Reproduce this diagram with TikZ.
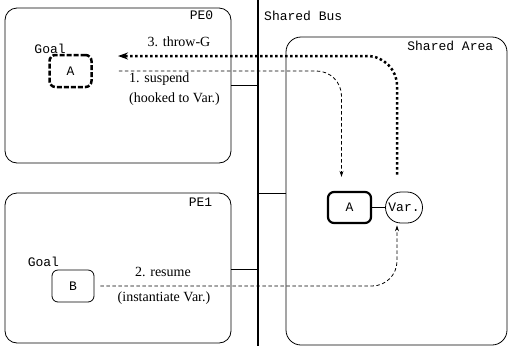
\documentclass[tikz,border=0pt]{standalone}
\usepackage{fontspec}
\setmainfont{Liberation Serif}
\setmonofont{Liberation Mono}
\usetikzlibrary{arrows.meta, positioning, shapes.misc}

\begin{document}
\begin{tikzpicture}[
    x=1pt, y=-1pt,
    font=\fontsize{14}{20}\selectfont,
    pebox/.style={draw, rounded corners=12pt, line width=0.8pt, minimum width=226pt},
    tag/.style={font=\ttfamily\fontsize{13}{15}\selectfont, inner sep=0pt},
    goal/.style={draw, rounded corners=6pt, minimum width=42pt, minimum height=32pt, line width=0.8pt, font=\ttfamily\fontsize{13}{15}\selectfont},
    link/.style={line width=0.8pt},
    arr/.style={-{Stealth[length=6pt,width=4pt]}, line width=0.8pt, dash pattern=on 3.5pt off 2.5pt, rounded corners=25pt},
    throw/.style={-{Stealth[length=10pt,width=7pt]}, line width=2.5pt, dash pattern=on 2.5pt off 2.5pt, rounded corners=30pt}
]
\useasboundingbox (0,0) rectangle (508,346);

\node[pebox, minimum height=155pt] (pe0) at (118,85.5) {};
\node[pebox, minimum height=150pt] (pe1) at (118,268) {};
\node[draw, rounded corners=15pt, line width=0.8pt, minimum width=221pt, minimum height=308pt] (area) at (396.5,191) {};
\node[tag, anchor=north east] at ([xshift=-18pt,yshift=-3pt]pe0.north east) {PE0};
\node[tag, anchor=north east] at ([xshift=-19pt,yshift=-5pt]pe1.north east) {PE1};
\node[tag, anchor=north east] at ([xshift=-14pt,yshift=-4.5pt]area.north east) {Shared Area};

\coordinate (bustop) at (258,0);
\coordinate (busbot) at (258,346);
\draw[line width=2pt] (bustop) -- (busbot);
\node[tag, anchor=west] at (264,16) {Shared Bus};

\node[goal, dash pattern=on 5pt off 2pt, line width=2.5pt] (goalA) at (70.5,71) {A};
\node[goal] (goalB) at (73,286) {B};
\node[tag, anchor=south west] at ([xshift=-14pt]goalA.north west) {Goal};
\node[tag, anchor=south west] at ([xshift=-24pt,yshift=3pt]goalB.north west) {Goal};

\node[goal, line width=2.2pt, minimum height=31pt, minimum width=43pt] (sA) at (349.5,207.5) {A};
\node[goal, sharp corners, rounded rectangle, inner xsep=3pt, minimum height=31pt, minimum width=43pt, right=13pt of sA] (var) {Var.};
\draw[link] (sA) -- (var);

\coordinate (tap0) at (258,85);
\coordinate (tap1) at (258,269);
\coordinate (tap2) at (258,193);
\draw[link] (tap0) -- (tap0 -| pe0.east);
\draw[link] (tap1) -- (tap1 -| pe1.east);
\draw[link] (tap2) -- (tap2 -| area.west);

\coordinate[right=26pt of goalA] (s0);
\coordinate (t0) at (118,56);
\coordinate[right=6pt of goalB] (r0);

\draw[arr] (s0) -| ([xshift=-8pt,yshift=14pt]sA.north);
\draw[throw] ([xshift=-7pt,yshift=17pt]var.north) |- (t0);
\draw[arr] (r0) -| ([xshift=-7pt,yshift=-2pt]var.south);

\node at (179,42) {3. throw-G};
\node[anchor=north west, align=left, inner sep=0pt] at (129,73) {1. suspend\\(hooked to Var.)};
\node at (163,272) {2. resume};
\node at (164,298) {(instantiate Var.)};
\end{tikzpicture}
\end{document}
